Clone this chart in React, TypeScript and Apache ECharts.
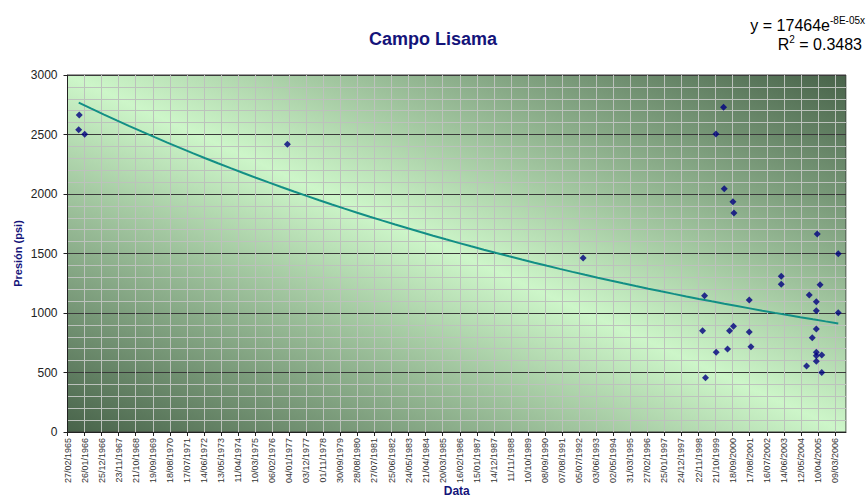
import React, { useEffect, useRef } from "react";
import * as echarts from "echarts";

const TITLE = "Campo Lisama";
const Y_NAME = "Presión (psi)";
const X_NAME = "Data";
const AXIS_START = "1965-02-27";
const AXIS_END = "2006-10-10";
const TICK_DAYS = 333;
const Y_MIN = 0;
const Y_MAX = 3000;
const Y_STEP = 500;

const DATES = [
  "1965-10-15", "1965-10-04", "1966-01-29", "1976-11-29", "1992-09-21",
  "1999-02-08", "1999-03-19", "1999-04-07", "1999-10-28", "1999-11-02",
  "2000-03-24", "2000-04-07", "2000-06-10", "2000-07-19", "2000-09-24",
  "2000-10-13", "2000-10-05", "2001-08-08", "2001-08-08", "2001-09-10",
  "2003-04-25", "2003-04-25", "2004-08-31", "2004-10-23", "2004-12-20",
  "2005-03-09", "2005-03-09", "2005-03-09", "2005-03-09", "2005-03-09",
  "2005-03-09", "2005-03-28", "2005-05-22", "2005-06-24", "2005-06-24",
  "2006-05-12", "2006-05-12",
];
const PRESSURE = [
  2664, 2540, 2502, 2418, 1462,
  851, 1146, 456, 2504, 670,
  2729, 2045, 698, 851, 1935,
  1840, 888, 1109, 840, 717,
  1308, 1241, 555, 1151, 793,
  1095, 1019, 866, 670, 641,
  594, 1664, 1238, 647, 501,
  1498, 1003,
];

const EQ_LINE1 = "y = 17464e";
const EQ_EXP = "-8E-05x";
const EQ_R2 = "0.3483";

const FONT = "'Liberation Sans', Arial, sans-serif";
const NAVY = "#14147a";

const DAY_MS = 86400000;
const EPOCH = Date.UTC(1899, 11, 30);
const serial = (iso: string) => (Date.parse(iso + "T00:00:00Z") - EPOCH) / DAY_MS;
const START = serial(AXIS_START);
const toUnit = (s: number) => (s - START) / TICK_DAYS;
const fmtDate = (s: number) => {
  const d = new Date(EPOCH + s * DAY_MS);
  const p = (n: number) => String(n).padStart(2, "0");
  return `${p(d.getUTCDate())}/${p(d.getUTCMonth() + 1)}/${d.getUTCFullYear()}`;
};

function buildOption() {
  const xs = DATES.map(serial);
  const points = xs.map((s, i) => [toUnit(s), PRESSURE[i]]);
  // exponential least-squares fit (as the spreadsheet trendline does)
  const n = xs.length;
  const ly = PRESSURE.map((v) => Math.log(v));
  const mx = xs.reduce((a, b) => a + b, 0) / n;
  const my = ly.reduce((a, b) => a + b, 0) / n;
  let sxy = 0;
  let sxx = 0;
  for (let i = 0; i < n; i++) {
    sxy += (xs[i] - mx) * (ly[i] - my);
    sxx += (xs[i] - mx) * (xs[i] - mx);
  }
  const k = sxy / sxx;
  const lnA = my - k * mx;
  const xmin = Math.min(...xs);
  const xmax = Math.max(...xs);
  const trend: number[][] = [];
  const STEPS = 60;
  for (let i = 0; i <= STEPS; i++) {
    const s = xmin + ((xmax - xmin) * i) / STEPS;
    trend.push([toUnit(s), Math.exp(lnA + k * s)]);
  }

  const rich = {
    n: { fontSize: 16, lineHeight: 20, color: "#222", fontFamily: FONT },
    s: { fontSize: 10, lineHeight: 10, verticalAlign: "top", color: "#222", fontFamily: FONT },
  };

  return {
    animation: false,
    backgroundColor: "#ffffff",
    textStyle: { fontFamily: FONT },
    title: {
      text: TITLE,
      left: "center",
      top: 25,
      textStyle: { fontFamily: FONT, fontSize: 18, fontWeight: "bold", color: NAVY },
    },
    graphic: [
      {
        type: "text",
        right: 1,
        top: 15,
        style: { text: `{n|${EQ_LINE1}}{s|${EQ_EXP}}`, fontFamily: FONT, rich },
      },
      {
        type: "text",
        right: 4,
        top: 34,
        style: { text: `{n|R}{s|2}{n| = ${EQ_R2}}`, fontFamily: FONT, rich },
      },
    ],
    grid: {
      left: 67.5,
      right: 20,
      top: 75,
      bottom: 65,
      outerBoundsMode: "none",
      containLabel: false,
      show: true,
      borderColor: "#3c3c3c",
      borderWidth: 1,
      backgroundColor: new echarts.graphic.LinearGradient(0, 1, 1, 0, [
        { offset: 0, color: "#48634a" },
        { offset: 0.5, color: "#cdf6c9" },
        { offset: 1, color: "#48634a" },
      ]),
    },
    xAxis: {
      type: "value",
      min: 0,
      max: toUnit(serial(AXIS_END)),
      interval: 1,
      name: X_NAME,
      nameLocation: "middle",
      nameGap: 53,
      nameMoveOverlap: false,
      nameTextStyle: { fontFamily: FONT, fontSize: 12, fontWeight: "bold", color: NAVY },
      axisLine: { show: true, lineStyle: { color: "#222", width: 1 } },
      axisTick: { show: true, inside: false, length: 4, lineStyle: { color: "#222" } },
      axisLabel: {
        rotate: 90,
        fontSize: 9,
        color: "#333",
        margin: 6,
        showMaxLabel: false,
        fontFamily: FONT,
        formatter: (v: number) => fmtDate(START + Math.round(v * TICK_DAYS)),
      },
      splitLine: { show: true, lineStyle: { color: "#bcc2bc", width: 1 } },
    },
    yAxis: {
      type: "value",
      min: Y_MIN,
      max: Y_MAX,
      interval: Y_STEP,
      name: Y_NAME,
      nameLocation: "middle",
      nameGap: 44,
      nameMoveOverlap: false,
      nameTextStyle: { fontFamily: FONT, fontSize: 11, fontWeight: "bold", color: NAVY },
      axisLine: { show: true, lineStyle: { color: "#222", width: 1 } },
      axisTick: { show: true, inside: false, length: 4, lineStyle: { color: "#222" } },
      axisLabel: {
        fontSize: 12,
        color: "#222",
        margin: 10,
        fontFamily: FONT,
        formatter: (v: number) => String(v),
      },
      splitLine: { show: true, lineStyle: { color: "#3a3a3a", width: 1 } },
      minorTick: { show: false, splitNumber: 5 },
      minorSplitLine: { show: true, lineStyle: { color: "#bcc2bc", width: 1 } },
    },
    series: [
      {
        type: "line",
        data: trend,
        showSymbol: false,
        symbol: "none",
        smooth: false,
        lineStyle: { color: "#128f85", width: 2 },
        z: 3,
      },
      {
        type: "scatter",
        data: points,
        symbol: "diamond",
        symbolSize: 7,
        itemStyle: { color: "#000080" },
        z: 4,
      },
    ],
  };
}

export default function App() {
  const ref = useRef<HTMLDivElement>(null);
  useEffect(() => {
    if (!ref.current) return;
    const chart = echarts.init(ref.current, undefined, { renderer: "svg" });
    chart.setOption(buildOption() as any);
    return () => chart.dispose();
  }, []);
  return (
    <div
      ref={ref}
      style={{ position: "absolute", left: 0, top: 0, width: 866, height: 497 }}
    />
  );
}
